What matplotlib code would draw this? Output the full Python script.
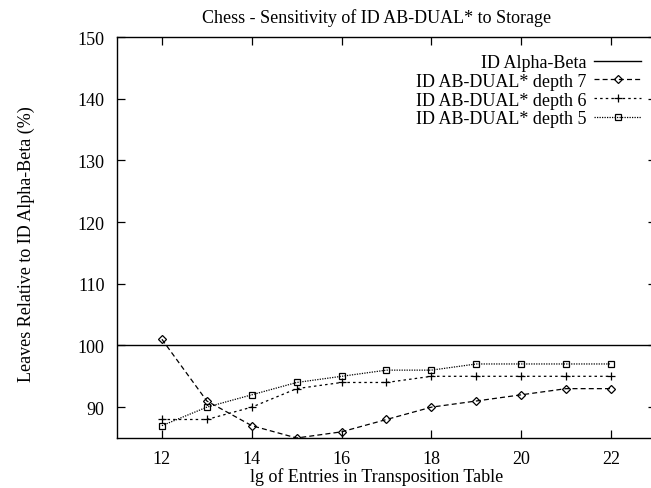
"""Chess - sensitivity of ID AB-DUAL* to storage (gnuplot-style line chart)."""

import matplotlib
matplotlib.use("Agg")
import matplotlib.pyplot as plt

plt.rcParams["font.family"] = ["Liberation Serif", "DejaVu Serif"]
plt.rcParams["font.size"] = 13

# ── data ──────────────────────────────────────────────────
lg_entries = [12, 13, 14, 15, 16, 17, 18, 19, 20, 21, 22]
depth7 = [101, 91, 87, 85, 86, 88, 90, 91, 92, 93, 93]
depth6 = [88, 88, 90, 93, 94, 94, 95, 95, 95, 95, 95]
depth5 = [87, 90, 92, 94, 95, 96, 96, 97, 97, 97, 97]
baseline = 100

x_ticks = [12, 14, 16, 18, 20, 22]
y_ticks = [90, 100, 110, 120, 130, 140, 150]

fig = plt.figure(figsize=(6.51, 4.89), dpi=100)
# the right edge of the plot box runs off the picture, as in the original
ax = fig.add_axes([117 / 651, 50 / 489, (656 - 117) / 651, 401 / 489])

ax.axhline(baseline, color="black", linewidth=1.0, label="ID Alpha-Beta")
ax.plot(lg_entries, depth7, color="black", linewidth=0.9, linestyle=(0, (4, 2.5)),
        marker="D", markersize=3.8, markerfacecolor="none", markeredgewidth=0.9,
        label="ID AB-DUAL* depth 7")
ax.plot(lg_entries, depth6, color="black", linewidth=0.9, linestyle=(0, (2, 2.5)),
        marker="+", markersize=5.5, markeredgewidth=0.9,
        label="ID AB-DUAL* depth 6")
ax.plot(lg_entries, depth5, color="black", linewidth=0.9, linestyle=(0, (1, 1)),
        marker="s", markersize=4.8, markerfacecolor="none", markeredgewidth=0.9,
        label="ID AB-DUAL* depth 5")

ax.set_xlim(11, 23)
ax.set_ylim(85, 150)
ax.set_xticks(x_ticks)
ax.set_yticks(y_ticks)
ax.tick_params(direction="in", length=6, width=0.9, top=True, right=True, pad=9)
for side in ax.spines.values():
    side.set_linewidth(1.0)

fig.text(377 / 651, 1 - 18 / 489, "Chess - Sensitivity of ID AB-DUAL* to Storage",
         ha="center", va="center")
fig.text(377 / 651, 1 - 477 / 489, "lg of Entries in Transposition Table",
         ha="center", va="center")
fig.text(26 / 651, 0.5, "Leaves Relative to ID Alpha-Beta (%)",
         rotation=90, ha="center", va="center")

ax.legend(loc="upper right", bbox_to_anchor=(641 / 651, 1 - 55 / 489),
          bbox_transform=fig.transFigure, frameon=False, markerfirst=False,
          handlelength=2.6, handletextpad=0.4, labelspacing=0.1,
          borderpad=0, borderaxespad=0)

fig.savefig("out.png", dpi=100, facecolor="white")
